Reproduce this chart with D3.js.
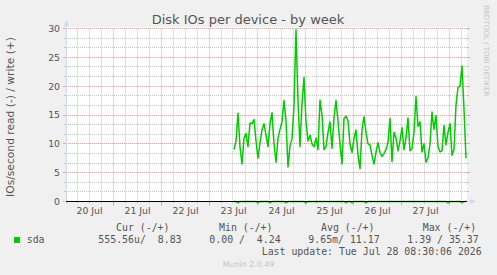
<!DOCTYPE html>
<html><head><meta charset="utf-8">
<script src="https://cdn.jsdelivr.net/npm/d3@7/dist/d3.min.js"></script>
<style>html,body{margin:0;padding:0;background:#f0f0f0;} svg{display:block}</style>
</head><body>
<script>
// ---- data ----
const dayLabels = ["20 Jul","21 Jul","22 Jul","23 Jul","24 Jul","25 Jul","26 Jul","27 Jul"];
const dayNoons = ["2026-07-20","2026-07-21","2026-07-22","2026-07-23","2026-07-24","2026-07-25","2026-07-26","2026-07-27"];
const yTickValues = [0,5,10,15,20,25,30];
const yTickLabels = ["0","5","10","15","20","25","30"];
const seriesStart = "2026-07-23T12:30:00";   // first sample, one sample per hour
const writeValues = [
 9.0,10.5,15.3,9.5,6.5,11.0,11.8,9.5,13.6,13.5,14.2,10.5,7.5,10.2,12.4,13.5,11.5,9.5,13.5,15.4,
 10.0,6.8,11.0,12.5,13.8,17.5,14.0,6.0,9.6,10.9,16.7,29.8,17.5,9.5,17.0,21.5,13.8,10.5,11.5,10.0,
 9.5,11.0,9.0,17.6,15.0,9.0,9.5,12.0,13.8,9.2,14.5,17.5,14.0,10.0,6.5,14.4,14.8,14.0,10.0,8.5,
 11.0,12.4,8.0,5.7,12.5,14.7,12.0,10.0,9.8,8.0,6.5,8.5,10.2,8.5,7.8,8.3,9.0,10.3,14.4,6.9,
 12.0,11.0,8.8,10.5,12.8,9.0,11.0,14.5,8.8,9.2,12.0,18.2,13.0,13.8,8.6,10.0,6.8,7.5,10.0,15.5,
 12.5,14.9,9.5,8.6,8.8,13.2,9.8,12.0,13.5,8.0,9.0,16.7,19.8,20.0,23.5,16.0,7.5
];
const readValues = [
 0,0,0.25,0,0,0,0,0,0,0,0,0,0.25,0,0,0,0,0,0.25,0,
 0,0,0,0,0,0,0.25,0,0,0,0,0,0,0,0,0,0.25,0,0,0,
 0,0,0,0,0,0,0,0,0,0,0,0,0,0,0,0,0.25,0,0,0.25,
 0,0,0,0,0,0,0.25,0,0,0,0,0,0,0,0,0,0,0,0,0,
 0,0,0,0,0,0,0,0,0,0,0,0,0,0,0,0,0,0,0,0,
 0,0,0,0,0,0,0,0.25,0,0,0,0,0,0,0.25,0,0
];
const legendHeaders = ["Cur (-/+)","Min (-/+)","Avg (-/+)","Max (-/+)"];
const legendValues = ["555.56u/  8.83","0.00 /  4.24","9.65m/ 11.17","1.39 / 35.37"];
const seriesName = "sda";
const title = "Disk IOs per device - by week";
const yLabel = "IOs/second read (-) / write (+)";
const lastUpdate = "Last update: Tue Jul 28 08:30:06 2026";

// ---- layout ----
const W = 497, H = 275;
const X0 = 66, X1 = 466, YT = 28.5, YB = 201.5;
const green = "#00cc00";
const textCol = "#555";
const majCol = "#eda3a3", minCol = "#c4c4c4";

const svg = d3.select("body").append("svg").attr("width", W).attr("height", H);
svg.append("rect").attr("width", W).attr("height", H).attr("fill", "#f0f0f0");
svg.append("rect").attr("x", X0).attr("y", 27).attr("width", X1 - X0 + 1).attr("height", 175).attr("fill", "#fff");

const parse = d3.timeParse("%Y-%m-%d");
const x = d3.scaleTime()
  .domain([new Date(2026,6,20,0,30), new Date(2026,6,28,8,30)])
  .range([X0, X1]);
const y = d3.scaleLinear().domain([0,30]).range([YB, YT]);
const crisp = v => Math.round(v - 0.5) + 0.5;

const grid = svg.append("g");
// minor horizontal
const minorY = d3.range(0, 30.01, 5/3).filter(v => Math.abs(v/5 - Math.round(v/5)) > 1e-6);
minorY.forEach(v => {
  const yy = crisp(y(v));
  grid.append("line").attr("x1", X0).attr("x2", X1+1).attr("y1", yy).attr("y2", yy)
    .attr("stroke", minCol).attr("stroke-dasharray", "1,1");
  grid.append("line").attr("x1", X0-2).attr("x2", X0).attr("y1", yy).attr("y2", yy).attr("stroke", minCol);
  grid.append("line").attr("x1", X1+1).attr("x2", X1+3).attr("y1", yy).attr("y2", yy).attr("stroke", minCol);
});
// minor vertical (6h)
const sixH = d3.timeHour.every(6).range(x.domain()[0], x.domain()[1]).filter(d => d.getHours() !== 0);
sixH.forEach(d => {
  const xx = crisp(x(d));
  grid.append("line").attr("x1", xx).attr("x2", xx).attr("y1", YT).attr("y2", YB)
    .attr("stroke", minCol).attr("stroke-dasharray", "1,1");
  grid.append("line").attr("x1", xx).attr("x2", xx).attr("y1", YB).attr("y2", YB+2).attr("stroke", minCol);
});
// major horizontal
yTickValues.forEach(v => {
  const yy = crisp(y(v));
  grid.append("line").attr("x1", X0).attr("x2", X1+1).attr("y1", yy).attr("y2", yy)
    .attr("stroke", majCol).attr("stroke-dasharray", "1,1");
  grid.append("line").attr("x1", X0-3).attr("x2", X0).attr("y1", yy).attr("y2", yy).attr("stroke", majCol);
  grid.append("line").attr("x1", X1+1).attr("x2", X1+4).attr("y1", yy).attr("y2", yy).attr("stroke", majCol);
});
// major vertical (midnights)
const mids = d3.timeDay.every(1).range(x.domain()[0], x.domain()[1]);
mids.forEach(d => {
  const xx = crisp(x(d));
  grid.append("line").attr("x1", xx).attr("x2", xx).attr("y1", YT).attr("y2", YB)
    .attr("stroke", majCol).attr("stroke-dasharray", "1,1");
  grid.append("line").attr("x1", xx).attr("x2", xx).attr("y1", YB).attr("y2", YB+4).attr("stroke", majCol);
});

// data
const t0 = new Date(seriesStart);
const pts = writeValues.map((v,i) => ({t: d3.timeHour.offset(t0, i), w: v, r: readValues[i]}));
svg.append("clipPath").attr("id","cp").append("rect").attr("x", X0).attr("y", 27).attr("width", X1-X0+1).attr("height", 180);
const g = svg.append("g").attr("clip-path","url(#cp)");
g.append("path").datum(pts)
  .attr("d", d3.line().x(d => x(d.t)).y(d => y(-d.r)))
  .attr("fill","none").attr("stroke", green).attr("stroke-width", 1.5);
g.append("path").datum(pts)
  .attr("d", d3.line().x(d => x(d.t)).y(d => y(d.w)))
  .attr("fill","none").attr("stroke", green).attr("stroke-width", 1.5).attr("stroke-linejoin","round");

// axes lines (lavender) + zero rule
const axisCol = "#cfd6f8";
svg.append("line").attr("x1", X0+0.5).attr("x2", X0+0.5).attr("y1", YB+2).attr("y2", 24).attr("stroke", axisCol);
svg.append("path").attr("d", `M${X0-2},26 L${X0+3},26 L${X0+0.5},20 Z`).attr("fill", axisCol);
svg.append("line").attr("x1", X0-2).attr("x2", X1+6).attr("y1", YB).attr("y2", YB).attr("stroke", axisCol);
svg.append("path").attr("d", `M${X1+4},${YB-2.5} L${X1+4},${YB+2.5} L${X1+10},${YB} Z`).attr("fill", axisCol);
svg.append("line").attr("x1", X0).attr("x2", X1+1).attr("y1", YB).attr("y2", YB).attr("stroke", "#000");

// axis labels via d3 axes
const yAxis = d3.axisLeft(y).tickValues(yTickValues).tickFormat((d,i) => yTickLabels[i]).tickSize(0).tickPadding(6);
const ya = svg.append("g").attr("transform", `translate(${X0},0)`).call(yAxis);
ya.select(".domain").remove();
ya.selectAll("text").attr("fill", textCol).style("font-family","DejaVu Sans").style("font-size","9.3px");

const noonDates = dayNoons.map(s => { const d = parse(s); d.setHours(12); return d; });
const xAxis = d3.axisBottom(x).tickValues(noonDates).tickFormat((d,i) => dayLabels[i]).tickSize(0).tickPadding(6);
const xa = svg.append("g").attr("transform", `translate(0,${YB})`).call(xAxis);
xa.select(".domain").remove();
xa.selectAll("text").attr("fill", textCol).style("font-family","DejaVu Sans").style("font-size","9.3px");

// title & labels
svg.append("text").attr("x", 248).attr("y", 24).attr("text-anchor","middle")
  .attr("fill", textCol).style("font-family","DejaVu Sans").style("font-size","13px").text(title);
svg.append("text").attr("transform", "translate(14,117) rotate(-90)").attr("text-anchor","middle")
  .attr("fill", textCol).style("font-family","DejaVu Sans").style("font-size","10.7px").text(yLabel);
svg.append("text").attr("transform", "translate(484,5) rotate(90)").attr("text-anchor","start")
  .attr("fill", "#c4c4c4").style("font-family","DejaVu Sans").style("font-size","7.1px").text("RRDTOOL / TOBI OETIKER");

// legend
const mono = "DejaVu Sans Mono";
const hx = [116, 219, 321, 422.7];
const vx = [98.3, 209.3, 308.3, 407.3];
legendHeaders.forEach((h,i) => svg.append("text").attr("x", hx[i]).attr("y", 231).attr("fill", textCol)
  .style("font-family", mono).style("font-size","9.9px").style("white-space","pre").text(h));
svg.append("rect").attr("x", 14).attr("y", 237).attr("width", 6).attr("height", 6).attr("fill", green);
svg.append("text").attr("x", 26.7).attr("y", 243).attr("fill", textCol)
  .style("font-family", mono).style("font-size","9.9px").text(seriesName);
legendValues.forEach((v,i) => svg.append("text").attr("x", vx[i]).attr("y", 243).attr("fill", textCol)
  .style("font-family", mono).style("font-size","9.9px").attr("xml:space","preserve").style("white-space","pre").text(v));
svg.append("text").attr("x", 261.7).attr("y", 254.5).attr("fill", textCol)
  .style("font-family", mono).style("font-size","9.9px").style("white-space","pre").text(lastUpdate);
svg.append("text").attr("x", 248.5).attr("y", 267).attr("text-anchor","middle").attr("fill", "#c4c4c4")
  .style("font-family","DejaVu Sans").style("font-size","7.9px").text("Munin 2.0.49");
</script>
</body></html>
